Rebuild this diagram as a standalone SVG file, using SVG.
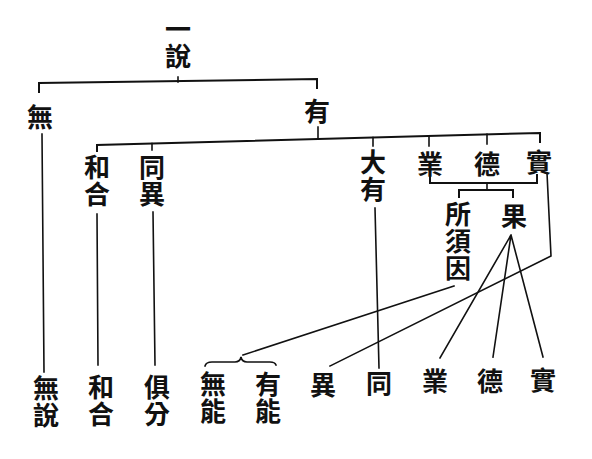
<svg xmlns="http://www.w3.org/2000/svg" width="592" height="459" viewBox="0 0 592 459">
<style>
  text { font-family: "Noto Sans CJK TC", "Noto Sans CJK JP", sans-serif; font-weight: 700; font-size: 26px; fill: #111; text-anchor: middle; dominant-baseline: central; }
  .v { writing-mode: vertical-rl; letter-spacing: 1px; }
  .ln { fill: none; stroke: #111; stroke-width: 1.6; stroke-linecap: square; stroke-linejoin: miter; }
  .hv { stroke-width: 2; }
</style>
<rect width="592" height="459" fill="#fff"/>
<g id="connectors">
  <path class="ln hv" d="M39,92 L39,83 L317,79 L317,88"/>
  <path class="ln" d="M178,77 L178,82"/>
  <path class="ln" d="M318,127 L318,139"/>
  <path class="ln hv" d="M97,151 L97,145 L540,133 L540,142"/>
  <path class="ln" d="M152,143.5 L152,150"/>
  <path class="ln" d="M373,137.6 L373,146"/>
  <path class="ln" d="M429,136 L429,146"/>
  <path class="ln" d="M487,134.4 L487,144"/>
  <path class="ln" d="M42,134 L44,372"/>
  <path class="ln" d="M97,214 L98,365"/>
  <path class="ln" d="M153,212 L155,365"/>
  <path class="ln" d="M375,208 L379,368"/>
  <path class="ln hv" d="M430,175 L430,183 L537,183 L537,175"/>
  <path class="ln" d="M487,183 L487,190"/>
  <path class="ln hv" d="M459,197 L459,190 L513,190 L513,197"/>
  <path class="ln" d="M440,358 L511,235 L493,357 M511,235 L543,357"/>
  <path class="ln" d="M547,173 L551,256 L330,366"/>
  <path class="ln" d="M454,286 L243,355"/>
  <path class="ln" d="M205,366 Q206,362 212,362 L235,362 Q240,362 241,357 Q242,362 247,362 L270,362 Q275,362 276,365"/>
</g>
<g id="n-yishuo"><text class="v" x="178" y="43.5">一說</text></g>
<g id="n-wu"><text x="40" y="115">無</text></g>
<g id="n-you"><text x="317" y="109">有</text></g>
<g id="n-hehe"><text class="v" x="97" y="181.5">和合</text></g>
<g id="n-tongyi"><text class="v" x="152" y="181.5">同異</text></g>
<g id="n-dayou"><text class="v" x="373" y="176">大有</text></g>
<g id="n-ye"><text x="430" y="162">業</text></g>
<g id="n-de"><text x="487" y="162">德</text></g>
<g id="n-shi"><text x="539" y="160">實</text></g>
<g id="n-suoxuyin"><text class="v" x="458" y="241.5">所須因</text></g>
<g id="n-guo"><text x="514" y="214">果</text></g>
<g id="b-wushuo"><text class="v" x="46" y="402.5">無說</text></g>
<g id="b-hehe"><text class="v" x="101" y="401.5">和合</text></g>
<g id="b-jufen"><text class="v" x="157" y="401.5">俱分</text></g>
<g id="b-wuneng"><text class="v" x="213" y="398.5">無能</text></g>
<g id="b-youneng"><text class="v" x="268" y="398.5">有能</text></g>
<g id="b-yi"><text x="323" y="383">異</text></g>
<g id="b-tong"><text x="379" y="381">同</text></g>
<g id="b-ye"><text x="435" y="379">業</text></g>
<g id="b-de"><text x="490" y="379">德</text></g>
<g id="b-shi"><text x="543" y="378">實</text></g>
</svg>
